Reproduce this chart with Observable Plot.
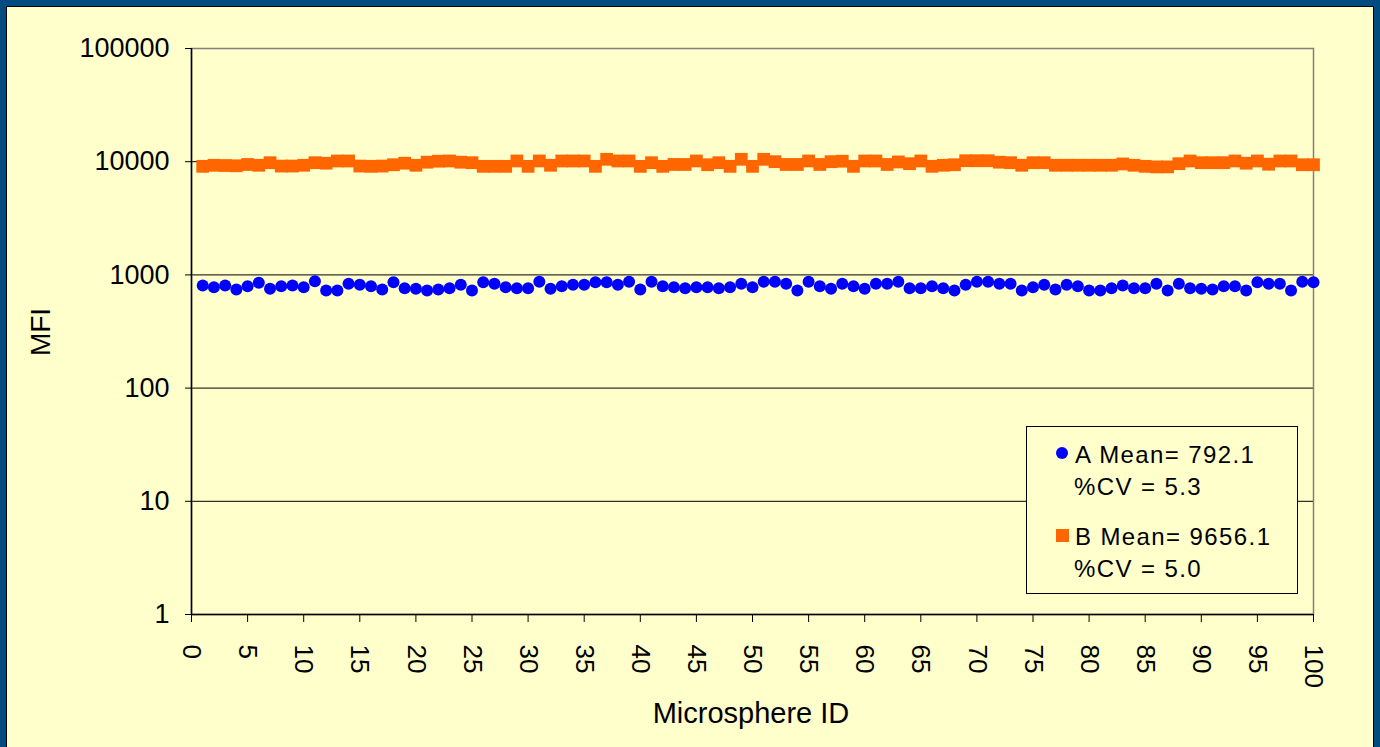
<!DOCTYPE html>
<html><head><meta charset="utf-8">
<script src="https://cdn.jsdelivr.net/npm/d3@7"></script>
<script src="https://cdn.jsdelivr.net/npm/@observablehq/plot@0.6"></script>
<style>
html,body{margin:0;padding:0;width:1380px;height:747px;overflow:hidden;background:#004b80;}
#panel{position:absolute;left:6px;top:6px;width:1366px;height:760px;background:#ffffcc;border:1px solid #000;}
#chart{position:absolute;left:0;top:0;}
.lbl{position:absolute;font-family:"Liberation Sans",Arial,sans-serif;color:#000;white-space:nowrap;line-height:1;}
#legend{position:absolute;left:1026px;top:426px;width:270px;height:166px;border:1px solid #000;background:#ffffcc;}
.lt{position:absolute;font-family:"Liberation Sans",Arial,sans-serif;font-size:24px;letter-spacing:1.4px;color:#000;white-space:nowrap;line-height:1;}
</style>
</head><body>
<div id="panel"></div>
<div id="chart"></div>
<div class="lbl" id="xlabel" style="left:0;width:1502px;text-align:center;top:699px;font-size:29px;">Microsphere ID</div>
<div class="lbl" id="ylabel" style="left:41px;top:332px;font-size:28px;transform:translate(-50%,-50%) rotate(-90deg);">MFI</div>
<div id="legend">
  <div style="position:absolute;left:29px;top:20px;width:12px;height:12px;border-radius:50%;background:#0000ff;"></div>
  <div class="lt" style="left:48px;top:16px;">A Mean= 792.1</div>
  <div class="lt" style="left:47px;top:48px;">%CV = 5.3</div>
  <div style="position:absolute;left:29px;top:102px;width:13px;height:13px;background:#ff6600;"></div>
  <div class="lt" style="left:48px;top:98px;">B Mean= 9656.1</div>
  <div class="lt" style="left:47px;top:130px;">%CV = 5.0</div>
</div>
<script>
const ids = [1,2,3,4,5,6,7,8,9,10,11,12,13,14,15,16,17,18,19,20,21,22,23,24,25,26,27,28,29,30,31,32,33,34,35,36,37,38,39,40,41,42,43,44,45,46,47,48,49,50,51,52,53,54,55,56,57,58,59,60,61,62,63,64,65,66,67,68,69,70,71,72,73,74,75,76,77,78,79,80,81,82,83,84,85,86,87,88,89,90,91,92,93,94,95,96,97,98,99,100];
const mfiA = [806,779,806,743,795,851,754,795,806,779,880,728,728,834,817,795,743,863,764,754,728,743,764,817,728,
  863,834,779,764,764,870,754,795,817,817,863,863,817,870,743,870,795,779,764,779,779,764,779,834,779,
  870,870,834,728,870,795,754,834,795,754,834,834,870,764,764,795,764,728,817,870,870,834,834,728,779,
  817,743,817,795,728,728,764,806,764,764,834,728,834,764,754,743,795,795,728,863,834,834,728,870,863];
const mfiB = [9100,9300,9250,9200,9450,9300,9800,9150,9150,9300,9800,9700,10150,10150,9150,9100,9150,9400,9700,9300,9900,10100,10150,9900,9800,
  9100,9100,9100,10150,9100,10150,9300,10150,10150,10150,9100,10500,10150,10150,9100,9800,9100,9450,9450,10150,9400,9800,9100,10500,9100,
  10500,10000,9450,9450,10150,9450,10000,10100,9100,10150,10150,9450,9950,9600,10150,9100,9300,9400,10200,10200,10200,9900,9800,9300,9800,
  9800,9300,9300,9300,9300,9300,9300,9550,9300,9100,9000,9000,9600,10150,9800,9800,9800,10150,9700,10150,9500,10150,10150,9400,9400];
const yTicks = [1,10,100,1000,10000,100000];
const xTicks = [0,5,10,15,20,25,30,35,40,45,50,55,60,65,70,75,80,85,90,95,100];

const rowsA = ids.map((id,i)=>({id, v: mfiA[i]}));
const rowsB = ids.map((id,i)=>({id, v: mfiB[i]}));

const chart = Plot.plot({
  width: 1380, height: 747,
  marginLeft: 191, marginRight: 67, marginTop: 48, marginBottom: 133,
  style: {background: "transparent", fontFamily: "'Liberation Sans', Arial, sans-serif", fontSize: "27px", color: "#000", overflow: "visible"},
  x: {domain: [0,100]},
  y: {type: "log", domain: [1,100000]},
  marks: [
    Plot.ruleY(yTicks.slice(1,5), {stroke: "#000", strokeWidth: 1, strokeOpacity: 1}),
    Plot.frame({stroke: "#808080", strokeWidth: 1.5}),
    Plot.ruleX([0], {stroke: "#000", strokeWidth: 1.5}),
    Plot.ruleY([1], {stroke: "#000", strokeWidth: 1.5}),
    Plot.axisY({ticks: yTicks, tickFormat: d => String(d), tickSize: 6, tickPadding: 16, label: null, stroke: "#000", strokeOpacity: 1}),
    Plot.axisX({ticks: xTicks, tickFormat: d => String(d), tickRotate: 90, tickSize: 8, tickPadding: 22, fontSize: 26, label: null, stroke: "#000", strokeOpacity: 1}),
    Plot.dot(rowsA, {x: "id", y: "v", r: 6, fill: "#0000ff", symbol: "circle"}),
    Plot.dot(rowsB, {x: "id", y: "v", r: 7.2, fill: "#ff6600", symbol: "square"})
  ]
});
document.getElementById("chart").appendChild(chart);
</script>
</body></html>
